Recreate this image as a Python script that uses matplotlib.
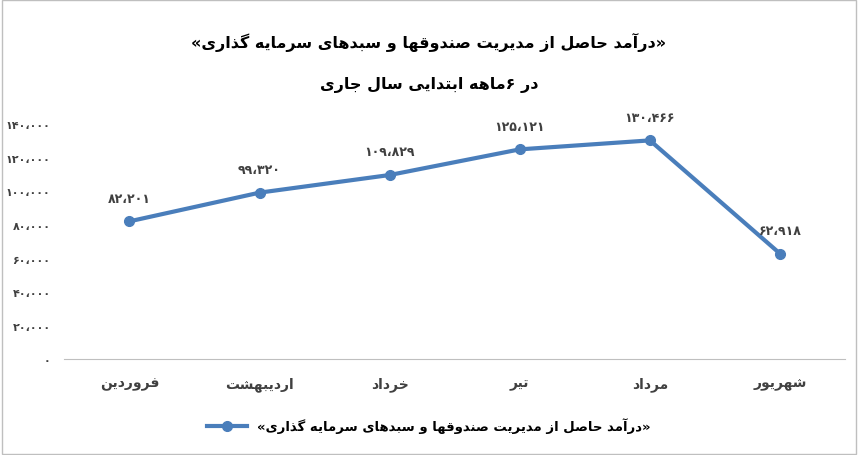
import matplotlib
matplotlib.use('Agg')
from matplotlib import pyplot as plt
from matplotlib.lines import Line2D

months = ['فروردین', 'اردیبهشت', 'خرداد', 'تیر', 'مرداد', 'شهریور']
values = [82201, 99320, 109829, 125121, 130466, 62918]
yticks = [0, 20000, 40000, 60000, 80000, 100000, 120000, 140000]
title1 = '«درآمد حاصل از مدیریت صندوقها و سبدهای سرمایه گذاری»'
title2 = 'در ۶ماهه ابتدایی سال جاری'
series_name = '«درآمد حاصل از مدیریت صندوقها و سبدهای سرمایه گذاری»'

# minimal Persian shaping (isolated, final, initial, medial)
FORMS = {
    'ا': (0xFE8D, 0xFE8E), 'آ': (0xFE81, 0xFE82), 'د': (0xFEA9, 0xFEAA),
    'ذ': (0xFEAB, 0xFEAC), 'ر': (0xFEAD, 0xFEAE), 'ز': (0xFEAF, 0xFEB0),
    'ژ': (0xFB8A, 0xFB8B), 'و': (0xFEED, 0xFEEE),
    'ب': (0xFE8F,), 'پ': (0xFB56,), 'ت': (0xFE95,), 'ث': (0xFE99,),
    'ج': (0xFE9D,), 'چ': (0xFB7A,), 'ح': (0xFEA1,), 'خ': (0xFEA5,),
    'س': (0xFEB1,), 'ش': (0xFEB5,), 'ص': (0xFEB9,), 'ض': (0xFEBD,),
    'ط': (0xFEC1,), 'ظ': (0xFEC5,), 'ع': (0xFEC9,), 'غ': (0xFECD,),
    'ف': (0xFED1,), 'ق': (0xFED5,), 'ک': (0xFB8E,), 'گ': (0xFB92,),
    'ل': (0xFEDD,), 'م': (0xFEE1,), 'ن': (0xFEE5,), 'ه': (0xFEE9,),
    'ی': (0xFBFC,),
}


def forms(c):
    f = FORMS[c]
    if len(f) == 2:
        return f[0], f[1], None, None
    b = f[0]
    return b, b + 1, b + 2, b + 3


def joins_left(c):
    return c in FORMS and len(FORMS[c]) == 1


def shape(s):
    out = []
    for i, c in enumerate(s):
        if c not in FORMS:
            out.append(c)
            continue
        prev = s[i - 1] if i > 0 else ''
        nxt = s[i + 1] if i + 1 < len(s) else ''
        jp = joins_left(prev)
        jn = joins_left(c) and nxt in FORMS
        iso, fin, ini, med = forms(c)
        if jp and jn:
            out.append(chr(med))
        elif jp:
            out.append(chr(fin))
        elif jn:
            out.append(chr(ini))
        else:
            out.append(chr(iso))
    vis = ''.join(out)[::-1]
    return vis.translate(str.maketrans('«»', '»«'))


def fa_num(n):
    s = '{:,}'.format(n).replace(',', '،')
    return s.translate(str.maketrans('0123456789', '۰۱۲۳۴۵۶۷۸۹'))


plt.rcParams['font.family'] = ['DejaVu Sans']
fig = plt.figure(figsize=(8.58, 4.56), dpi=100)
ax = fig.add_axes([0.075, 0.21, 0.91, 0.515])
color = '#4A7EBB'
x = list(range(len(months)))
ax.plot(x, values, color=color, lw=3, marker='o', ms=7)
for xi, v in zip(x, values):
    ax.annotate(fa_num(v), (xi, v), xytext=(0, 12), textcoords='offset points',
                ha='center', va='bottom', fontsize=9, fontweight='bold', color='#404040')
ax.set_xlim(-0.5, 5.5)
ax.set_ylim(0, 140000)
ax.set_yticks(yticks)
ax.set_yticklabels([fa_num(t) for t in yticks], fontsize=8, fontweight='bold', color='#404040')
ax.set_xticks(x)
ax.set_xticklabels([shape(m) for m in months], fontsize=10, fontweight='bold', color='#404040')
for s in ['top', 'right', 'left']:
    ax.spines[s].set_visible(False)
ax.spines['bottom'].set_color('#BFBFBF')
ax.tick_params(axis='x', length=0, pad=12)
ax.tick_params(axis='y', length=0, pad=10)

fig.text(0.5, 0.895, shape(title1), ha='center', fontsize=11.5, fontweight='bold')
fig.text(0.5, 0.805, shape(title2), ha='center', fontsize=11.5, fontweight='bold')
h = Line2D([], [], color=color, lw=3, marker='o', ms=7)
fig.legend([h], [shape(series_name)], loc='center', bbox_to_anchor=(0.5, 0.065),
           prop={'weight': 'bold', 'size': 9.5}, frameon=False, handlelength=3)
fig.patches.append(plt.Rectangle((0.002, 0.002), 0.996, 0.996, transform=fig.transFigure,
                                 fill=False, edgecolor='#BFBFBF', lw=1))
fig.savefig('out.png', dpi=100)
